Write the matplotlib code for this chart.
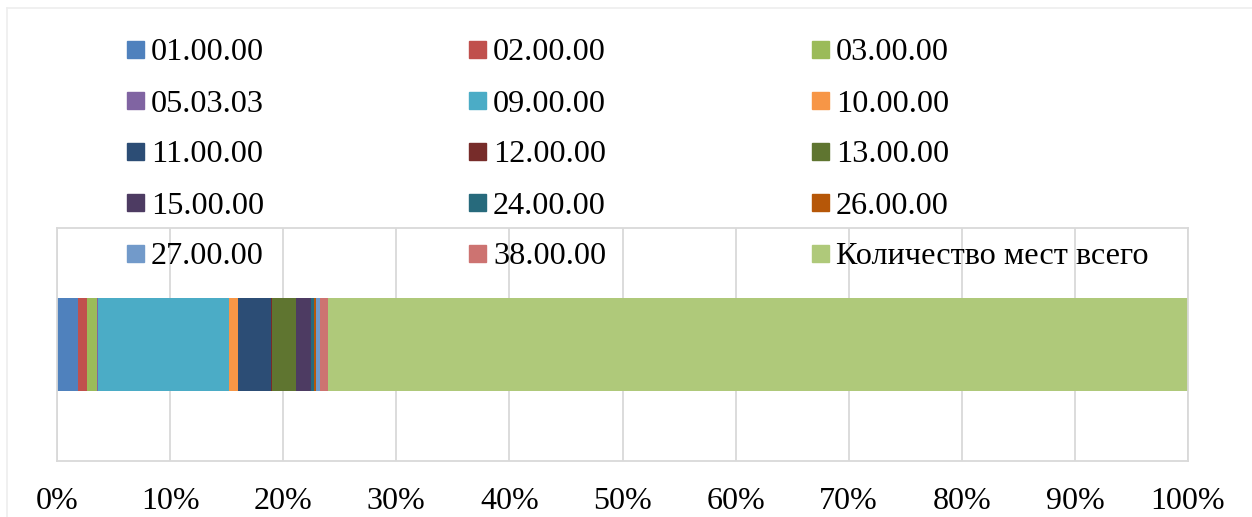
import numpy as np
import matplotlib.pyplot as plt
from matplotlib.patches import Rectangle
from matplotlib.lines import Line2D
from matplotlib.ticker import PercentFormatter

plt.rcParams['font.family'] = ['Liberation Serif', 'DejaVu Serif']

codes = ['01.00.00', '02.00.00', '03.00.00', '05.03.03', '09.00.00',
         '10.00.00', '11.00.00', '12.00.00', '13.00.00', '15.00.00',
         '24.00.00', '26.00.00', '27.00.00', '38.00.00',
         'Количество мест всего']
shares = [1.86, 0.80, 0.88, 0.06, 11.60, 0.80, 2.94, 0.06, 2.12, 1.33,
          0.27, 0.18, 0.35, 0.71, 76.04]
colors = ['#4F81BD', '#C0504D', '#9BBB59', '#8064A2', '#4BACC6',
          '#F79646', '#2C4D75', '#772C2A', '#5F7530', '#4D3B62',
          '#276A7C', '#B65708', '#729ACA', '#CD7371', '#AFC97A']

W, H = 1252, 517
fig = plt.figure(figsize=(W / 100, H / 100), dpi=100)
ax = fig.add_axes([57 / W, 1 - 461 / H, (1188 - 57) / W, (461 - 228) / H])

total = sum(shares)
pct = np.array(shares) / total * 100
left = 0.0
for v, c in zip(pct, colors):
    ax.barh(0, v, left=left, height=0.403, color=c, zorder=2)
    left += v

ax.set_xlim(0, 100)
ax.set_ylim(-0.5, 0.5)
ax.set_xticks(np.arange(0, 101, 10))
ax.xaxis.set_major_formatter(PercentFormatter(decimals=0))
ax.set_yticks([])
ax.tick_params(axis='x', length=0, pad=19, labelsize=23)
ax.grid(axis='x', color='#D9D9D9', linewidth=1.3, zorder=0)
for s in ax.spines.values():
    s.set_color('#D9D9D9')
    s.set_linewidth(1.3)

# legend, laid out row by row like the original
col_x = [127, 469, 812]
for i, (name, c) in enumerate(zip(codes, colors)):
    row, col = divmod(i, 3)
    yc = 49.5 + 51 * row
    x0 = col_x[col]
    fig.patches.append(Rectangle((x0 / W, 1 - (yc + 8.5) / H), 17 / W, 17 / H,
                                 transform=fig.transFigure, color=c, zorder=3))
    fig.text((x0 + 24) / W, 1 - yc / H, name, fontsize=23.2,
             va='center_baseline', ha='left', zorder=4)

# chart border
fig.add_artist(Line2D([7 / W, 7 / W], [0, 1 - 8 / H], transform=fig.transFigure,
                      color='#EEEEEE', linewidth=1.2))
fig.add_artist(Line2D([7 / W, 1], [1 - 8 / H, 1 - 8 / H], transform=fig.transFigure,
                      color='#EEEEEE', linewidth=1.2))

fig.savefig('out.png', dpi=100)
